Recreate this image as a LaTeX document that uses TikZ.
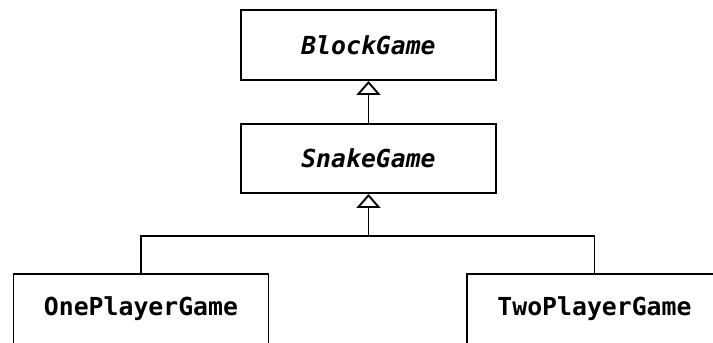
\documentclass[tikz,border=0pt]{standalone}
\usepackage{fontspec}
\setmonofont{DejaVu Sans Mono}
\usetikzlibrary{arrows.meta}
\tikzset{
  cls/.style={draw=black, line width=1.9pt, fill=white, rectangle, minimum width=255pt, minimum height=70pt, inner sep=0pt, font=\fontsize{24.8pt}{28pt}\selectfont\ttfamily\bfseries},
  abscls/.style={cls, font=\fontsize{24.8pt}{28pt}\selectfont\ttfamily\bfseries\itshape},
  inh/.style={line width=1.9pt, -{Triangle[open, width=24pt, length=14pt, line width=1.9pt]}},
  lnk/.style={line width=1.9pt}
}
\begin{document}
\begin{tikzpicture}[x=1pt, y=-1pt]
\useasboundingbox (0,0) rectangle (713,343);
\clip (0,0) rectangle (713,343);
\fill[white] (0,0) rectangle (713,343);
\node[abscls] (block) at (368.5,45) {BlockGame};
\node[abscls, minimum height=69pt] (snake) at (368.5,158.5) {SnakeGame};
\node[cls] (one) at (141,309) {OnePlayerGame};
\node[cls] (two) at (594.5,309) {TwoPlayerGame};
\coordinate (j) at (368.5,236);
\draw[inh] (snake.north) -- (block.south);
\draw[inh] (j) -- (snake.south);
\draw[lnk] (one.north) |- (j) -| (two.north);
\end{tikzpicture}
\end{document}
